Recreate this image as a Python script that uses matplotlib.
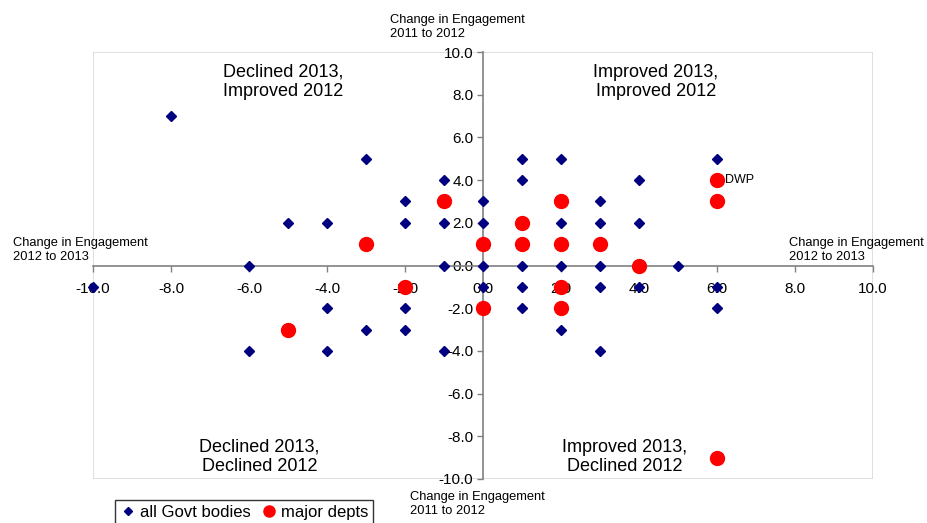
import matplotlib
matplotlib.use("Agg")
import matplotlib.pyplot as plt
from matplotlib.patches import Rectangle

plt.rcParams['font.family'] = ['Liberation Sans', 'DejaVu Sans']

# all Govt bodies: change 2012->2013 (x), change 2011->2012 (y)
govt_x = [-8, -3, 1, 2, 6, -1, 1, 4, -2, 0, 3, -5, -4, -2, -1, 0, 2, 3, 4,
          -6, -1, 0, 1, 2, 3, 5, -10, 0, 1, 3, 4, 6, -4, -2, 1, 6,
          -3, -2, 2, -6, -4, -1, 3]
govt_y = [7, 5, 5, 5, 5, 4, 4, 4, 3, 3, 3, 2, 2, 2, 2, 2, 2, 2, 2,
          0, 0, 0, 0, 0, 0, 0, -1, -1, -1, -1, -1, -1, -2, -2, -2, -2,
          -3, -3, -3, -4, -4, -4, -4]

# major depts
major_x = [-1, -3, 0, 1, 1, 2, 2, 3, 4, 6, 6, -2, 2, 0, 2, -5, 6]
major_y = [3, 1, 1, 2, 1, 3, 1, 1, 0, 4, 3, -1, -1, -2, -2, -3, -9]

ticks = [-10, -8, -6, -4, -2, 0, 2, 4, 6, 8, 10]

fig = plt.figure(figsize=(9.28, 5.23), dpi=100)
ax = fig.add_axes([93/928, 1-479/523, (873-93)/928, (479-52)/523])
ax.set_xlim(-10, 10)
ax.set_ylim(-10, 10)

for s in ['top', 'right']:
    ax.spines[s].set_visible(False)
for s in ['left', 'bottom']:
    ax.spines[s].set_position('zero')
    ax.spines[s].set_color('#808080')
    ax.spines[s].set_linewidth(1.2)

ax.add_patch(Rectangle((0, 0), 1, 1, transform=ax.transAxes, fill=False,
                       edgecolor='#d9d9d9', linewidth=1.2, zorder=0))

ax.set_xticks(ticks)
ax.set_yticks(ticks)
ax.set_xticklabels(['%.1f' % t for t in ticks], fontsize=11)
ax.set_yticklabels(['%.1f' % t for t in ticks], fontsize=11)
ax.tick_params(axis='both', direction='out', length=4, color='#808080', width=1)
ax.tick_params(axis='x', pad=8)
ax.tick_params(axis='y', pad=3)

ax.plot(govt_x, govt_y, linestyle='none', marker='D', markersize=5,
        color='#000080', label='all Govt bodies', clip_on=False, zorder=3)
ax.plot(major_x, major_y, linestyle='none', marker='o', markersize=10,
        color='#ff0000', label='major depts', clip_on=False, zorder=4)

ax.text(6.2, 4, 'DWP', fontsize=9, va='center', ha='left')

qfont = dict(fontsize=13, ha='center', va='center', linespacing=1.15)
ax.text(-5.12, 8.6, 'Declined 2013,\nImproved 2012', **qfont)
ax.text(4.43, 8.6, 'Improved 2013,\nImproved 2012', **qfont)
ax.text(-5.73, -8.95, 'Declined 2013,\nDeclined 2012', **qfont)
ax.text(3.63, -8.95, 'Improved 2013,\nDeclined 2012', **qfont)

tfont = dict(fontsize=9.3, ha='left', va='center', linespacing=1.3)
fig.text(390/928, 1-27/523, 'Change in Engagement\n2011 to 2012', **tfont)
fig.text(410/928, 1-504/523, 'Change in Engagement\n2011 to 2012', **tfont)
fig.text(13/928, 1-250/523, 'Change in Engagement\n2012 to 2013', **tfont)
fig.text(789/928, 1-250/523, 'Change in Engagement\n2012 to 2013', **tfont)

leg = fig.legend(loc='upper left', bbox_to_anchor=(115/928, 1-500/523), ncol=2,
                 fontsize=12, frameon=True, fancybox=False, edgecolor='black',
                 handletextpad=0.2, columnspacing=0.6, handlelength=1.0,
                 borderpad=0.3, borderaxespad=0, markerscale=0.8)
leg.get_frame().set_linewidth(1.0)

fig.savefig('out.png', dpi=100)
